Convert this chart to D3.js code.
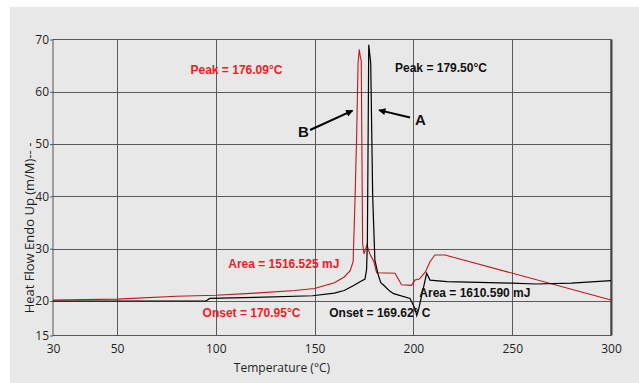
<!DOCTYPE html>
<html>
<head>
<meta charset="utf-8">
<script src="https://d3js.org/d3.v7.min.js"></script>
<style>
    body { margin: 0; background: #fff; }
    .tick text { font-family: "Open Sans", sans-serif; font-size: 12px; fill: #1f1f1f; }
    .note { font-family: "Liberation Sans", Arial, sans-serif; font-weight: bold; font-size: 12px; }
</style>
</head>
<body>
<div id="chart"></div>
<script>
    // x ticks, y ticks
    const xTicks = [30, 50, 100, 150, 200, 250, 300];
    const yTicks = [15, 20, 30, 40, 50, 60, 70];

    // curve B (red) : [temperature, heat flow]
    const seriesB = [
        [30, 20.2], [50, 20.35], [80, 20.9], [100, 21.1], [120, 21.5], [140, 22.0],
        [150, 22.4], [160, 23.5], [165, 24.6], [168, 25.8], [169.5, 27.5], [170.5, 40],
        [171.3, 52], [172, 65.5], [172.6, 68.1], [173.2, 66.5], [173.6, 66], [174.3, 31],
        [175, 29], [176.5, 30.7], [178, 29], [180, 27.5], [181.4, 25.4], [190.7, 25.3],
        [194, 23.1], [199, 23.0], [200.8, 24.0], [203, 24.2], [206, 25.5], [208.4, 27.5],
        [210.9, 28.8], [216, 28.8], [300, 20.2]
    ];

    // curve A (black)
    const seriesA = [
        [30, 20.0], [60, 20.0], [95, 20.0], [97, 20.5], [120, 20.7], [149, 21.0],
        [160, 21.5], [165, 22.0], [170, 23.0], [173, 23.7], [175.5, 24.2], [176.3, 26],
        [176.7, 31], [177.1, 52], [177.4, 69], [178.4, 65.5], [179.4, 40], [180.5, 27.8],
        [182.2, 25], [183.5, 23.5], [185, 23], [188, 21.9], [190, 21.4], [198.3, 20.5],
        [200.8, 18.9], [201.7, 17.9], [202.5, 18.6], [206.7, 25.3], [208.4, 24.0],
        [217, 23.7], [250, 23.4], [262, 23.25], [280, 23.4], [300, 23.9]
    ];

    // annotations placed in data units
    const notes = [
        { t: 87.2, v: 63.4, text: "Peak = 176.09°C", color: "#ee1c25" },
        { t: 190.7, v: 63.8, text: "Peak = 179.50°C", color: "#111" },
        { t: 106.3, v: 26.4, text: "Area = 1516.525 mJ", color: "#ee1c25" },
        { t: 93.3, v: 17.64, text: "Onset = 170.95°C", color: "#ee1c25" },
        { t: 157.4, v: 17.64, text: "Onset = 169.62° C", color: "#111" },
        { t: 203.0, v: 20.82, text: "Area = 1610.590 mJ", color: "#111" }
    ];
    const letters = [
        { t: 141.6, v: 51.4, text: "B" },
        { t: 200.8, v: 53.65, text: "A" }
    ];
    const arrows = [
        { t1: 147.7, v1: 52.7, t2: 169.2, v2: 56.4 },
        { t1: 198.3, v1: 55.1, t2: 182.6, v2: 56.5 }
    ];

    const W = 639, H = 383;
    const mLeft = 53, mRight = 611, mTop = 39.5, mBottom = 335.5;

    const svg = d3.select("#chart").append("svg")
        .attr("width", W).attr("height", H);

    svg.append("rect").attr("x", 10).attr("y", 7)
        .attr("width", W - 10).attr("height", H - 7).attr("fill", "#e8e8e8");

    // the axes of the original are broken at 50 and 20
    const x = d3.scaleLinear().domain([30, 50, 300]).range([mLeft, mLeft + 64, mRight]);
    const y = d3.scaleLinear().domain([15, 20, 70]).range([mBottom, mBottom - 34.5, mTop]);

    // grid
    svg.append("g").selectAll("line")
        .data(xTicks.slice(1, -1)).join("line")
        .attr("x1", d => Math.round(x(d)) + 0.5).attr("x2", d => Math.round(x(d)) + 0.5)
        .attr("y1", mTop).attr("y2", mBottom)
        .attr("stroke", "#5a5a5a").attr("stroke-width", 1);
    svg.append("g").selectAll("line")
        .data(yTicks.slice(1, -1)).join("line")
        .attr("x1", mLeft).attr("x2", mRight)
        .attr("y1", d => Math.round(y(d)) + 0.5).attr("y2", d => Math.round(y(d)) + 0.5)
        .attr("stroke", "#5a5a5a").attr("stroke-width", 1);

    // axes
    svg.append("g")
        .attr("transform", `translate(0,${mBottom})`)
        .call(d3.axisBottom(x).tickValues(xTicks).tickSize(0).tickPadding(9))
        .call(g => g.select(".domain").remove());
    svg.append("g")
        .attr("transform", `translate(${mLeft},0)`)
        .call(d3.axisLeft(y).tickValues(yTicks).tickSize(3).tickPadding(1))
        .call(g => g.select(".domain").remove())
        .call(g => g.selectAll(".tick line").attr("stroke", "#5a5a5a"));

    svg.append("rect")
        .attr("x", mLeft).attr("y", mTop)
        .attr("width", mRight - mLeft).attr("height", mBottom - mTop)
        .attr("fill", "none").attr("stroke", "#555").attr("stroke-width", 1);
    svg.append("line")
        .attr("x1", mRight + 0.5).attr("x2", mRight + 0.5).attr("y1", mTop).attr("y2", mBottom)
        .attr("stroke", "#444").attr("stroke-width", 2);

    svg.append("text")
        .attr("x", 282).attr("y", 372)
        .attr("text-anchor", "middle")
        .style("font-family", "'Open Sans', sans-serif").style("font-size", "12px")
        .attr("fill", "#1f1f1f")
        .text("Temperature (°C)");

    svg.append("text")
        .attr("transform", "translate(34,228) rotate(-90)")
        .attr("text-anchor", "middle")
        .style("font-family", "'Open Sans', sans-serif").style("font-size", "13px")
        .attr("fill", "#1f1f1f")
        .text("Heat Flow Endo Up (m/M)-- -");

    const line = d3.line().x(d => x(d[0])).y(d => y(d[1]));

    svg.append("path").datum(seriesB)
        .attr("d", line).attr("fill", "none")
        .attr("stroke", "#c0161c").attr("stroke-width", 1.1);
    svg.append("path").datum(seriesA)
        .attr("d", line).attr("fill", "none")
        .attr("stroke", "#000").attr("stroke-width", 1.2);

    svg.append("defs").append("marker")
        .attr("id", "head").attr("viewBox", "0 0 10 10")
        .attr("refX", 9).attr("refY", 5)
        .attr("markerWidth", 9).attr("markerHeight", 7)
        .attr("markerUnits", "userSpaceOnUse")
        .attr("orient", "auto")
        .append("path").attr("d", "M0,0L10,5L0,10z").attr("fill", "#000");

    svg.append("g").selectAll("line")
        .data(arrows).join("line")
        .attr("x1", d => x(d.t1)).attr("y1", d => y(d.v1))
        .attr("x2", d => x(d.t2)).attr("y2", d => y(d.v2))
        .attr("stroke", "#000").attr("stroke-width", 2)
        .attr("marker-end", "url(#head)");

    svg.append("g").selectAll("text")
        .data(notes).join("text")
        .attr("class", "note")
        .attr("x", d => x(d.t)).attr("y", d => y(d.v))
        .attr("fill", d => d.color)
        .text(d => d.text);

    svg.append("g").selectAll("text")
        .data(letters).join("text")
        .attr("class", "note")
        .style("font-size", "15px")
        .attr("x", d => x(d.t)).attr("y", d => y(d.v))
        .attr("fill", "#111")
        .text(d => d.text);
</script>
</body>
</html>
